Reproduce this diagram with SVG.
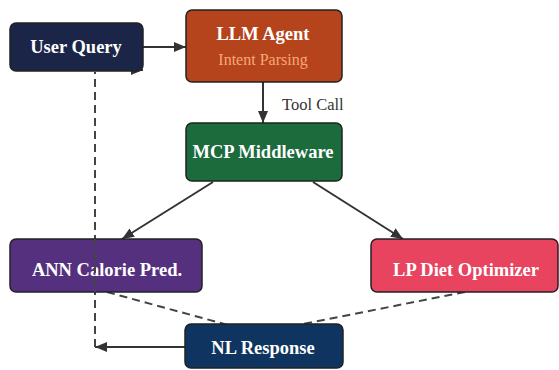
<svg xmlns="http://www.w3.org/2000/svg" width="559" height="370" viewBox="0 0 559 370">
<defs>
<marker id="ah" markerWidth="12" markerHeight="10" refX="12" refY="5" orient="auto" markerUnits="userSpaceOnUse">
<path d="M0,0 L12,5 L0,10 Z" fill="#333"/>
</marker>
<style>
.box{stroke:#222;stroke-width:1.5}
.t{font-family:"Liberation Serif",serif;font-weight:bold;font-size:18.5px;fill:#fff;text-anchor:middle}
.sub{font-family:"Liberation Serif",serif;font-size:16px;fill:#f6a877;text-anchor:middle}
.lbl{font-family:"Liberation Serif",serif;font-size:16.5px;fill:#333}
.e{stroke:#333;stroke-width:2;fill:none}
.d{stroke:#444;stroke-width:2;fill:none;stroke-dasharray:8 5}
</style>
</defs>
<rect width="559" height="370" fill="#fff"/>
<g id="connectors">
<line class="e" x1="143" y1="47" x2="186" y2="47" marker-end="url(#ah)"/>
<line class="e" x1="263" y1="82" x2="263" y2="123" marker-end="url(#ah)"/>
<text class="lbl" x="282" y="110">Tool Call</text>
<line class="e" x1="213" y1="182" x2="122" y2="239" marker-end="url(#ah)"/>
<line class="e" x1="313" y1="182" x2="403" y2="239" marker-end="url(#ah)"/>
<line class="d" x1="107" y1="292" x2="228" y2="325"/>
<line class="d" x1="465" y1="292" x2="298" y2="325"/>
<line class="e" x1="185" y1="347" x2="95" y2="347" marker-end="url(#ah)"/>
<line class="d" x1="95" y1="347" x2="95" y2="72"/>
<line class="e" x1="95" y1="70" x2="143" y2="70" marker-end="url(#ah)"/>
</g>
<g id="user-query">
<rect class="box" x="10" y="23" width="133" height="48" rx="6" fill="#1a2548"/>
<text class="t" x="76" y="53">User Query</text>
</g>
<g id="llm-agent">
<rect class="box" x="186" y="10" width="156" height="72" rx="6" fill="#b5441c"/>
<text class="t" x="263" y="40">LLM Agent</text>
<text class="sub" x="263" y="65">Intent Parsing</text>
</g>
<g id="mcp-middleware">
<rect class="box" x="186" y="123" width="156" height="58" rx="6" fill="#1b6b3c"/>
<text class="t" x="263" y="158">MCP Middleware</text>
</g>
<g id="ann">
<rect class="box" x="10" y="239" width="192" height="53" rx="6" fill="#55307f"/>
<text class="t" x="107" y="276">ANN Calorie Pred.</text>
</g>
<line class="d" x1="95" y1="239" x2="95" y2="292"/>
<g id="lp">
<rect class="box" x="371" y="239" width="187" height="53" rx="6" fill="#e8435f"/>
<text class="t" x="466" y="276">LP Diet Optimizer</text>
</g>
<g id="nl-response">
<rect class="box" x="185" y="324" width="158" height="44" rx="6" fill="#0f3460"/>
<text class="t" x="263" y="354">NL Response</text>
</g>
</svg>
